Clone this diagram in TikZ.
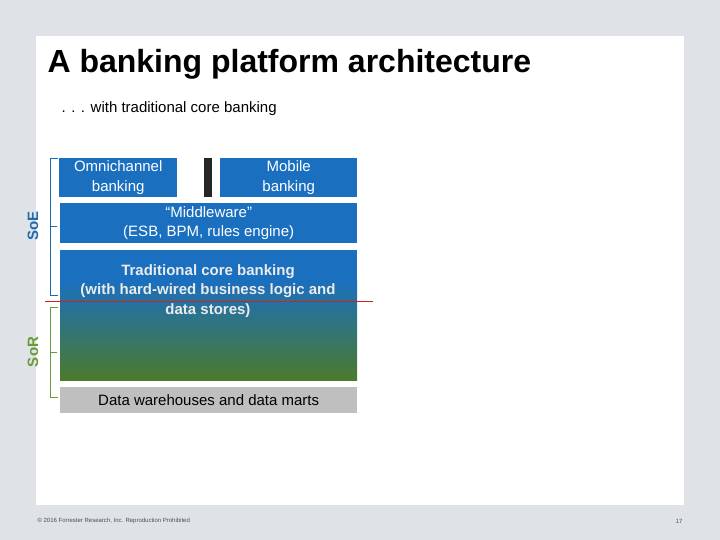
\documentclass[tikz,border=0pt]{standalone}
\usepackage{fontspec}
\setmainfont{Liberation Sans}
\definecolor{bgg}{HTML}{DFE3E7}
\definecolor{bl}{HTML}{1A6FBF}
\definecolor{gr}{HTML}{4C7A2C}
\definecolor{gy}{HTML}{BFBFBF}
\definecolor{soe}{HTML}{1E6BB0}
\definecolor{sor}{HTML}{6A9A3A}
\definecolor{rl}{HTML}{D02020}
\begin{document}
\begin{tikzpicture}[x=1pt,y=-1pt,
  box/.style={fill=bl,text=white,align=center,font=\fontsize{15}{19.5}\selectfont,inner sep=0pt}]
\useasboundingbox (0,0) rectangle (720,540);
\fill[bgg] (0,0) rectangle (720,540);
\fill[white] (36,36) rectangle (684,505);
\node[anchor=west,font=\bfseries\fontsize{32}{36}\selectfont] (title) at (44,64) {A banking platform architecture};
\node[anchor=west,font=\fontsize{15}{17}\selectfont] (sub) at (58,109) {. . . with traditional core banking};
\node[box,minimum width=118,minimum height=39,anchor=north west] (omni) at (59,158) {Omnichannel\\banking};
\fill[black!85] (204,158) rectangle (212,197);
\node[box,minimum width=137,minimum height=39,anchor=north west] (mob) at (220,158) {Mobile\\banking};
\node[box,minimum width=297,minimum height=40,anchor=north west] (mid) at (60,203) {“Middleware”\\(ESB, BPM, rules engine)};
\fill[bl] (60,250) rectangle (357,280);
\shade[top color=bl,bottom color=gr] (60,280) rectangle (357,380);
\node[font=\bfseries\fontsize{15}{19.5}\selectfont,text=white!92!black,align=center] (core) at (208,291) {Traditional core banking\\(with hard-wired business logic and\\data stores)};
\node[fill=gy,minimum width=297,minimum height=26,anchor=north west,inner sep=0pt,font=\fontsize{15}{17}\selectfont] (dw) at (60,387) {Data warehouses and data marts};
\draw[rl,line width=0.8pt] (45,301) -- (373,301);
\draw[soe,line width=0.8pt] (58,158) -- (50,158) -- (50,295) -- (58,295) (50,226) -- (57,226);
\draw[sor,line width=0.8pt] (58,307) -- (50,307) -- (50,397) -- (58,397) (50,352) -- (57,352);
\node[rotate=90,text=soe,font=\bfseries\fontsize{15}{17}\selectfont] (soel) at (33,226) {SoE};
\node[rotate=90,text=sor,font=\bfseries\fontsize{15}{17}\selectfont] (sorl) at (33,352) {SoR};
\node[anchor=west,font=\fontsize{6}{7}\selectfont,text=black!70] (foot) at (34,521) {© 2016 Forrester Research, Inc. Reproduction Prohibited};
\node[anchor=east,font=\fontsize{6}{7}\selectfont,text=black!70] (pg) at (686,521) {17};
\end{tikzpicture}
\end{document}
